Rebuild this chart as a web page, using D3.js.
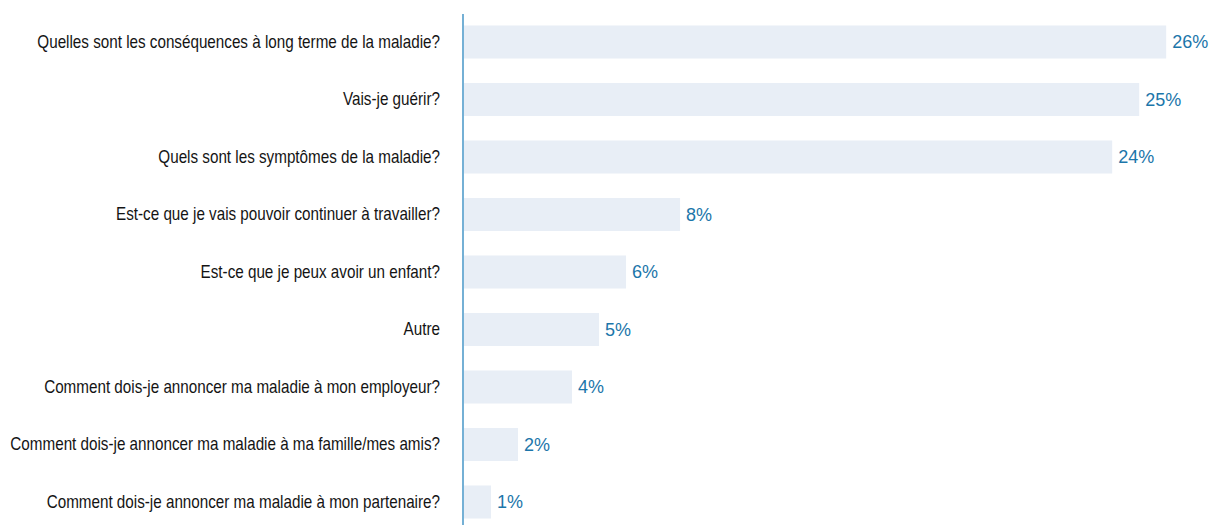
<!DOCTYPE html>
<html>
<head>
<meta charset="utf-8">
<script src="https://cdn.jsdelivr.net/npm/d3@7"></script>
<style>
  html, body { margin: 0; padding: 0; background: #fff; }
  svg { display: block; }
</style>
</head>
<body>
<svg id="chart" width="1224" height="525"></svg>
<script>
// Questions posées après le diagnostic (% des répondants)
const categories = [
  "Quelles sont les conséquences à long terme de la maladie?",
  "Vais-je guérir?",
  "Quels sont les symptômes de la maladie?",
  "Est-ce que je vais pouvoir continuer à travailler?",
  "Est-ce que je peux avoir un enfant?",
  "Autre",
  "Comment dois-je annoncer ma maladie à mon employeur?",
  "Comment dois-je annoncer ma maladie à ma famille/mes amis?",
  "Comment dois-je annoncer ma maladie à mon partenaire?"
];
const values = [26, 25, 24, 8, 6, 5, 4, 2, 1];
const valueLabels = values.map(v => v + "%");

const svg = d3.select("#chart");
const axisX = 463;
const labelGap = 23;

const x = d3.scaleLinear().domain([0, 26.4]).range([axisX, 1176]);
const y = d3.scaleBand()
  .domain(categories)
  .range([13.25, 530.75])
  .paddingInner(0.426)
  .paddingOuter(0.213);

// Barres
svg.append("g")
  .selectAll("rect")
  .data(categories)
  .join("rect")
  .attr("x", x(0) + 1)
  .attr("y", d => y(d))
  .attr("width", (d, i) => x(values[i]) - x(0))
  .attr("height", y.bandwidth())
  .attr("fill", "#e8eef6");

// Axe vertical avec les libellés des questions (police condensée)
const yAxis = d3.axisLeft(y).tickSize(0).tickPadding(labelGap);
const gy = svg.append("g")
  .attr("transform", `translate(${axisX},0)`)
  .call(yAxis);
gy.select(".domain").remove();
const tickTexts = gy.selectAll("text")
  .attr("font-family", "'Liberation Sans', Arial, sans-serif")
  .attr("font-size", 17.5)
  .attr("fill", "#141414");

// Largeur disponible pour le libellé le plus long : resserrement horizontal commun
const maxW = d3.max(tickTexts.nodes(), n => n.getComputedTextLength());
const condense = Math.min(1, (axisX - labelGap - 10) / maxW);
tickTexts
  .attr("x", 0)
  .attr("transform", `translate(${-labelGap},0) scale(${condense},1)`);

svg.append("line")
  .attr("x1", axisX).attr("x2", axisX)
  .attr("y1", 14).attr("y2", 525)
  .attr("stroke", "#2a86bf")
  .attr("stroke-width", 1.3);

// Valeurs
svg.append("g")
  .selectAll("text")
  .data(categories)
  .join("text")
  .attr("x", (d, i) => x(values[i]) + 7)
  .attr("y", d => y(d) + y.bandwidth() / 2)
  .attr("dy", "0.36em")
  .attr("font-family", "'Liberation Sans', Arial, sans-serif")
  .attr("font-size", 18)
  .attr("fill", "#1c76aa")
  .text((d, i) => valueLabels[i]);
</script>
</body>
</html>
